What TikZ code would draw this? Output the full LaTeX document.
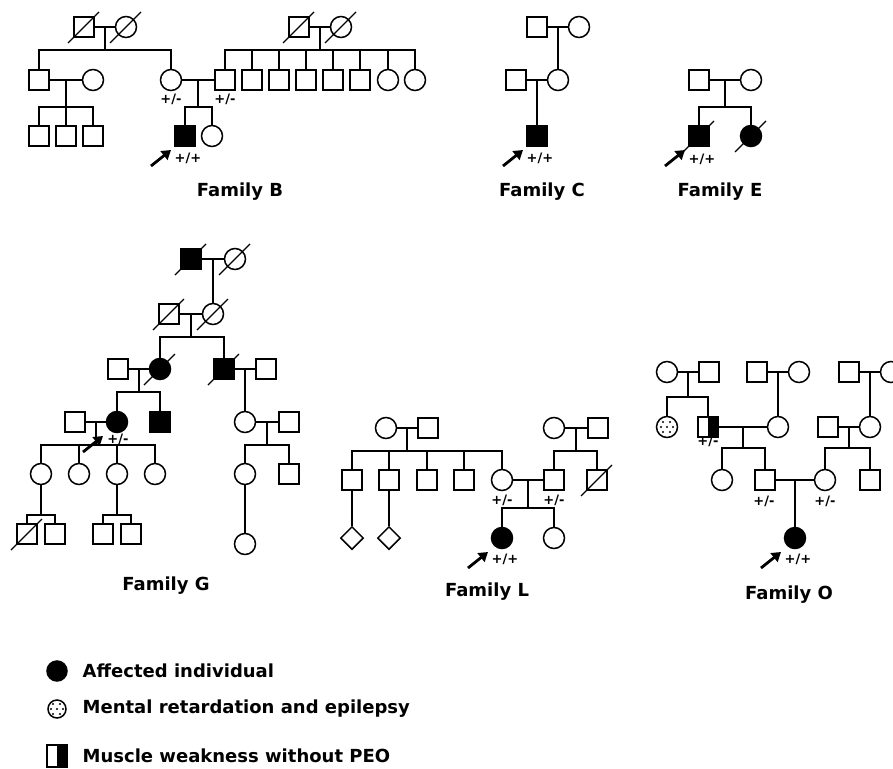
\documentclass[tikz,border=0pt]{standalone}
\usepackage{fontspec}
\setmainfont{DejaVu Sans}
\usetikzlibrary{arrows.meta,calc,shapes.geometric,positioning}

\tikzset{
  person/.style={draw, line width=1.5pt, inner sep=0pt, minimum size=20pt, fill=white},
  male/.style={person, rectangle},
  female/.style={person, circle, minimum size=21pt},
  unknown/.style={person, diamond, minimum size=23pt},
  affected/.style={fill=black},
  half/.style={male, path picture={\fill[black] (path picture bounding box.north) rectangle (path picture bounding box.south east);}},
  speckled/.style={female, path picture={\foreach \dx/\dy in {-4/-5,3/-5,-6/0,0/0,6/0,-4/5,3/5} \fill[black] ([shift={(\dx,\dy)}]path picture bounding box.center) circle (1.1pt);}},
  slash/.style={line width=1.3pt},
  proband/.style={line width=2.8pt, -{Triangle[length=9pt,width=11pt]}},
  geno/.style={font=\bfseries\fontsize{13}{14}\selectfont, inner sep=0pt},
  famlabel/.style={font=\bfseries\fontsize{18}{20}\selectfont, inner sep=0pt},
}
\newcommand\deadmark[1]{\draw[slash] (#1.center) ++(-16,16) -- ++(31,-31);}
\newcommand\probandarrow[1]{\draw[proband] (#1.center) ++(-34,30) -- ++(20,-16);}
\newcommand\kids[3]{\foreach \kid in {#3} {\draw (\kid.north) |- (#1 |- 0,#2) -- (#1);}}

\begin{document}
\begin{tikzpicture}[x=1pt, y=-1pt, line width=1.9pt]
        \useasboundingbox (0,0) rectangle (893,768);
        % Family B
        \node[male] (b1) at (84,27) {};
        \node[female] (b2) at (126,27) {};
        \node[male] (b3) at (39,80) {};
        \node[female] (b5) at (93,80) {};
        \node[male] (b6) at (39,136) {};
        \node[male] (b7) at (66,136) {};
        \node[male] (b8) at (93,136) {};
        \node[female] (b4) at (171,80) {};
        \node[male] (b9) at (225,80) {};
        \node[male, affected] (b10) at (185,136) {};
        \node[female] (b11) at (212,136) {};
        \node[male] (b12) at (299,27) {};
        \node[female] (b13) at (341,27) {};
            \foreach \i/\x in {14/252,15/279,16/306,17/333,18/360}
        {
        \node[male] (b\i) at (\x,80) {};
        }
        \node[female] (b19) at (388,80) {};
        \node[female] (b20) at (415,80) {};
        \draw (b1) -- (b2);
        \coordinate (bm1) at ($(b1)!.5!(b2)$);
        \kids{bm1}{50}{b3,b4}
        \draw (b3) -- (b5);
        \coordinate (bm2) at ($(b3)!.5!(b5)$);
        \kids{bm2}{107}{b6,b7,b8}
        \draw (b4) -- (b9);
        \coordinate (bm3) at ($(b4)!.5!(b9)$);
        \kids{bm3}{107}{b10,b11}
        \draw (b12) -- (b13);
        \coordinate (bm4) at ($(b12)!.5!(b13)$);
        \kids{bm4}{50}{b9,b14,b15,b16,b17,b18,b19,b20}
        \deadmark{b1} \deadmark{b2} \deadmark{b12} \deadmark{b13}
        \node[geno] (gtb4) at (171,99) {+/-};
        \node[geno] (gtb9) at (225,99) {+/-};
        \probandarrow{b10}
        \node[geno] (gtb10) at (188,158) {+/+};
        \node[famlabel] (famB) at (240,192) {Family B};
        % Family C
        \node[male] (c1) at (537,27) {};
        \node[female] (c2) at (579,27) {};
        \node[female] (c3) at (558,80) {};
        \node[male] (c4) at (516,80) {};
        \node[male, affected] (c5) at (537,136) {};
        \draw (c1) -- (c2);
        \coordinate (cm1) at ($(c1)!.5!(c2)$);
        \draw (cm1) -- (c3);
        \draw (c4) -- (c3);
        \coordinate (cm2) at ($(c4)!.5!(c3)$);
        \draw (cm2) -- (c5);
        \probandarrow{c5}
        \node[geno] (gtc5) at (540,158) {+/+};
        \node[famlabel] (famC) at (542,192) {Family C};
        % Family E
        \node[male] (e1) at (699,80) {};
        \node[female] (e2) at (751,80) {};
        \node[male, affected] (e3) at (699,136) {};
        \node[female, affected] (e4) at (751,136) {};
        \draw (e1) -- (e2);
        \coordinate (em1) at ($(e1)!.5!(e2)$);
        \kids{em1}{107}{e3,e4}
        \deadmark{e3} \deadmark{e4}
        \probandarrow{e3}
        \node[geno] (gte3) at (702,159) {+/+};
        \node[famlabel] (famE) at (720,192) {Family E};
        % Family G
        \node[male, affected] (g1) at (191,259) {};
        \node[female] (g2) at (235,259) {};
        \node[male] (g3) at (169,314) {};
        \node[female] (g4) at (213,314) {};
        \node[male] (g7) at (118,369) {};
        \node[female, affected] (g5) at (160,369) {};
        \node[male, affected] (g6) at (224,369) {};
        \node[male] (g10) at (266,369) {};
        \node[male] (g12) at (75,422) {};
        \node[female, affected] (g8) at (117,422) {};
        \node[male, affected] (g9) at (160,422) {};
        \node[female] (g11) at (245,422) {};
        \node[male] (g17) at (289,422) {};
        \node[female] (g13) at (41,474) {};
        \node[female] (g14) at (79,474) {};
        \node[female] (g15) at (117,474) {};
        \node[female] (g16) at (155,474) {};
        \node[female] (g18) at (245,474) {};
        \node[male] (g19) at (289,474) {};
        \node[male] (g20) at (27,534) {};
        \node[male] (g21) at (55,534) {};
        \node[male] (g22) at (103,534) {};
        \node[male] (g23) at (131,534) {};
        \node[female] (g24) at (245,544) {};
        \draw (g1) -- (g2);
        \coordinate (gm1) at ($(g1)!.5!(g2)$);
        \draw (gm1) -- (g4);
        \draw (g3) -- (g4);
        \coordinate (gm2) at ($(g3)!.5!(g4)$);
        \kids{gm2}{337}{g5,g6}
        \draw (g7) -- (g5);
        \coordinate (gm3) at ($(g7)!.5!(g5)$);
        \kids{gm3}{392}{g8,g9}
        \draw (g6) -- (g10);
        \coordinate (gm4) at ($(g6)!.5!(g10)$);
        \draw (gm4) -- (g11);
        \draw (g12) -- (g8);
        \coordinate (gm5) at ($(g12)!.5!(g8)$);
        \kids{gm5}{445}{g13,g14,g15,g16}
        \draw (g11) -- (g17);
        \coordinate (gm6) at ($(g11)!.5!(g17)$);
        \kids{gm6}{445}{g18,g19}
        \kids{g13.south}{515}{g20,g21}
        \kids{g15.south}{515}{g22,g23}
        \draw (g18) -- (g24);
        \deadmark{g1} \deadmark{g2} \deadmark{g3} \deadmark{g4}
        \deadmark{g5} \deadmark{g6} \deadmark{g20}
        \probandarrow{g8}
        \node[geno] (gtg8) at (118,439) {+/-};
        \node[famlabel] (famG) at (166,586) {Family G};
        % Family L
        \node[female] (l1) at (386,428) {};
        \node[male] (l2) at (428,428) {};
        \node[female] (l10) at (554,428) {};
        \node[male] (l11) at (598,428) {};
            \foreach \i/\x in {3/352,4/389,5/427,6/464}
        {
        \node[male] (l\i) at (\x,480) {};
        }
        \node[female] (l7) at (502,480) {};
        \node[male] (l12) at (554,480) {};
        \node[male] (l13) at (597,480) {};
        \node[unknown] (l8) at (352,538) {};
        \node[unknown] (l9) at (389,538) {};
        \node[female, affected] (l14) at (502,538) {};
        \node[female] (l15) at (554,538) {};
        \draw (l1) -- (l2);
        \coordinate (lm1) at ($(l1)!.5!(l2)$);
        \kids{lm1}{451}{l3,l4,l5,l6,l7}
        \draw (l3) -- (l8);
        \draw (l4) -- (l9);
        \draw (l10) -- (l11);
        \coordinate (lm2) at ($(l10)!.5!(l11)$);
        \kids{lm2}{451}{l12,l13}
        \draw (l7) -- (l12);
        \coordinate (lm3) at ($(l7)!.5!(l12)$);
        \kids{lm3}{508}{l14,l15}
        \deadmark{l13}
        \node[geno] (gtl7) at (502,500) {+/-};
        \node[geno] (gtl12) at (554,500) {+/-};
        \probandarrow{l14}
        \node[geno] (gtl14) at (505,559) {+/+};
        \node[famlabel] (famL) at (487,592) {Family L};
        % Family O
        \node[female] (o1) at (667,372) {};
        \node[male] (o2) at (709,372) {};
        \node[male] (o5) at (757,372) {};
        \node[female] (o6) at (799,372) {};
        \node[male] (o10) at (849,372) {};
        \node[female] (o11) at (891,372) {};
        \node[speckled] (o3) at (667,427) {};
        \node[half] (o4) at (708,427) {};
        \node[female] (o7) at (778,427) {};
        \node[male] (o13) at (828,427) {};
        \node[female] (o12) at (870,427) {};
        \node[female] (o8) at (722,480) {};
        \node[male] (o9) at (765,480) {};
        \node[female] (o14) at (825,480) {};
        \node[male] (o15) at (870,480) {};
        \node[female, affected] (o16) at (795,538) {};
        \draw (o1) -- (o2);
        \coordinate (om1) at ($(o1)!.5!(o2)$);
        \kids{om1}{397}{o3,o4}
        \draw (o5) -- (o6);
        \coordinate (om2) at ($(o5)!.5!(o6)$);
        \draw (om2) -- (o7);
        \draw (o4) -- (o7);
        \coordinate (om3) at ($(o4)!.5!(o7)$);
        \kids{om3}{448}{o8,o9}
        \draw (o10) -- (o11);
        \coordinate (om4) at ($(o10)!.5!(o11)$);
        \draw (om4) -- (o12);
        \draw (o13) -- (o12);
        \coordinate (om5) at ($(o13)!.5!(o12)$);
        \kids{om5}{448}{o14,o15}
        \draw (o9) -- (o14);
        \coordinate (om6) at ($(o9)!.5!(o14)$);
        \draw (om6) -- (o16);
        \node[geno] (gto4) at (708,441) {+/-};
        \node[geno] (gto9) at (764,501) {+/-};
        \node[geno] (gto14) at (825,501) {+/-};
        \probandarrow{o16}
        \node[geno] (gto16) at (798,559) {+/+};
        \node[famlabel] (famO) at (789,595) {Family O};
        % Legend
        \node[female, affected, minimum size=20pt] (key1) at (57,671) {};
        \node[famlabel, right=14pt of key1] (key1txt) {Affected individual};
        \node[speckled, minimum size=18pt] (key2) at (57,709) {};
        \node[famlabel, right=15pt of key2] (key2txt) {Mental retardation and epilepsy};
        \node[half, minimum height=22pt] (key3) at (57,756) {};
        \node[famlabel, right=14pt of key3] (key3txt) {Muscle weakness without PEO};
\end{tikzpicture}
\end{document}
